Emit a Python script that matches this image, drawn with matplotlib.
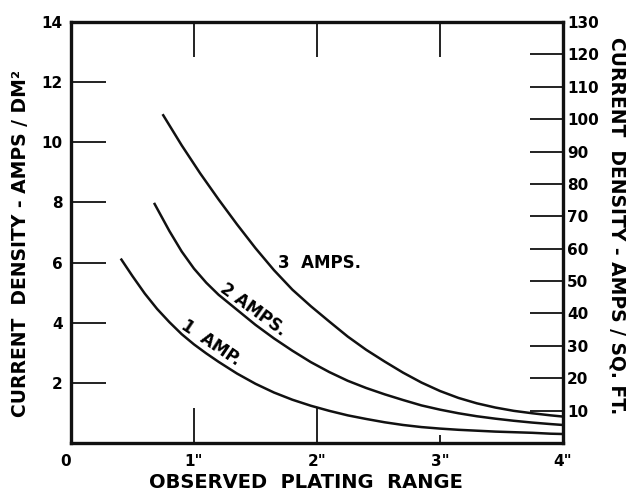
"""
plating range chart - current density vs observed plating range
"""

import matplotlib.pyplot as plt

# curve data (inches, amps/dm2)
amp1_x = [0.41, 0.5, 0.6, 0.7, 0.8, 0.9, 1.0, 1.1, 1.2, 1.35, 1.5, 1.65, 1.8, 1.95,
          2.1, 2.25, 2.4, 2.55, 2.7, 2.85, 3.0, 3.15, 3.3, 3.45, 3.6, 3.75, 3.9, 4.0]
amp1_y = [6.1, 5.55, 4.97, 4.46, 4.02, 3.62, 3.28, 2.98, 2.7, 2.31, 1.97, 1.68, 1.44, 1.24,
          1.07, 0.92, 0.8, 0.69, 0.6, 0.53, 0.48, 0.44, 0.41, 0.38, 0.36, 0.34, 0.31, 0.3]

amp2_x = [0.68, 0.8, 0.9, 1.0, 1.1, 1.2, 1.35, 1.5, 1.65, 1.8, 1.95, 2.1, 2.25, 2.4,
          2.55, 2.7, 2.85, 3.0, 3.15, 3.3, 3.45, 3.6, 3.75, 3.9, 4.0]
amp2_y = [7.95, 7.05, 6.37, 5.8, 5.33, 4.93, 4.43, 3.93, 3.48, 3.07, 2.69, 2.36, 2.07, 1.83,
          1.62, 1.43, 1.25, 1.11, 0.99, 0.89, 0.81, 0.74, 0.68, 0.63, 0.6]

amp3_x = [0.75, 0.9, 1.05, 1.2, 1.35, 1.5, 1.65, 1.8, 1.95, 2.1, 2.25, 2.4, 2.55,
          2.7, 2.85, 3.0, 3.15, 3.3, 3.45, 3.6, 3.75, 3.9, 4.0]
amp3_y = [10.9, 9.9, 8.97, 8.1, 7.27, 6.48, 5.75, 5.1, 4.55, 4.04, 3.54, 3.1, 2.71,
          2.34, 2.01, 1.73, 1.5, 1.32, 1.18, 1.07, 0.99, 0.92, 0.88]

x_ticks = [0, 1, 2, 3, 4]
x_labels = ['0', '1"', '2"', '3"', '4"']
left_ticks = [2, 4, 6, 8, 10, 12, 14]
right_ticks = [10, 20, 30, 40, 50, 60, 70, 80, 90, 100, 110, 120, 130]

FONT = {'family': 'DejaVu Sans', 'weight': 'bold'}

fig = plt.figure(figsize=(6.31, 4.95), dpi=100)
ax = fig.add_axes([0.1125, 0.105, 0.7797, 0.8505])

# curves
for xs, ys in [(amp1_x, amp1_y), (amp2_x, amp2_y), (amp3_x, amp3_y)]:
    ax.plot(xs, ys, color='#111111', linewidth=1.8, solid_joinstyle='round')

ax.set_xlim(0, 4)
ax.set_ylim(0, 14)

for s in ax.spines.values():
    s.set_linewidth(2.4)
    s.set_color('#111111')

# bottom / left ticks
ax.set_xticks(x_ticks)
ax.set_xticklabels(x_labels, fontsize=11, **FONT)
ax.set_yticks(left_ticks)
ax.set_yticklabels([str(t) for t in left_ticks], fontsize=11, **FONT)
ax.tick_params(axis='both', direction='in', length=25, width=1.3, color='#111111', pad=6)
ax.tick_params(axis='x', pad=8)
ax.xaxis.get_major_ticks()[3].tick1line.set_markersize(6)
for lbl in ax.get_xticklabels()[:1]:
    lbl.set_horizontalalignment('right')

# top ticks (no labels)
top = ax.secondary_xaxis('top')
top.set_xticks([1, 2, 3])
top.set_xticklabels([])
top.tick_params(direction='in', length=25, width=1.3, color='#111111')
top.spines['top'].set_visible(False)

# right axis in amps per sq ft
ax2 = ax.twinx()
ax2.set_ylim(0, 130)
ax2.set_yticks(right_ticks)
ax2.set_yticklabels([str(t) for t in right_ticks], fontsize=11, **FONT)
ax2.tick_params(direction='in', length=24, width=1.3, color='#111111', pad=3)
for s in ax2.spines.values():
    s.set_visible(False)

# curve labels
ax.text(2.02, 6.0, '3  AMPS.', fontsize=12, ha='center', va='center', **FONT)
ax.text(1.48, 4.45, '2 AMPS.', fontsize=12, ha='center', va='center', rotation=-36, **FONT)
ax.text(1.14, 3.33, '1  AMP.', fontsize=12, ha='center', va='center', rotation=-34, **FONT)

# axis titles
fig.text(0.485, 0.026, 'OBSERVED  PLATING  RANGE',
         fontsize=14, ha='center', va='center', **FONT)
fig.text(0.032, 0.509, 'CURRENT  DENSITY - AMPS / DM²', fontsize=13.5,
         ha='center', va='center', rotation=90, **FONT)
fig.text(0.978, 0.545, 'CURRENT  DENSITY - AMPS / SQ. FT.', fontsize=13.5,
         ha='center', va='center', rotation=-90, **FONT)

plt.savefig('out.png', dpi=100)
plt.close()
